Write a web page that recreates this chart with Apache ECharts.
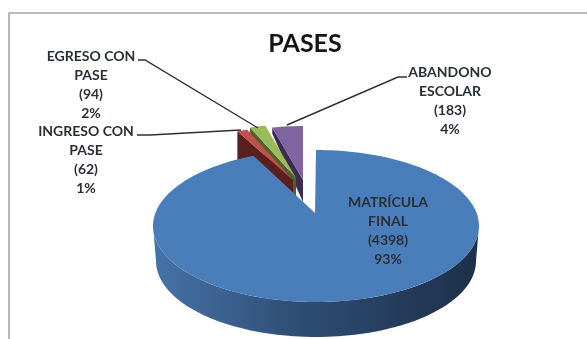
<!DOCTYPE html>
<html>
<head>
<meta charset="utf-8">
<style>html,body{margin:0;padding:0;background:#fff}#c{width:587px;height:339px}</style>
<script src="https://cdn.jsdelivr.net/npm/echarts@6/dist/echarts.min.js"></script>
</head>
<body>
<div id="c"></div>
<script>
var titleText = 'PASES';
var categories = ['MATRÍCULA\nFINAL', 'INGRESO CON\nPASE', 'EGRESO CON\nPASE', 'ABANDONO\nESCOLAR'];
var values = [4398, 62, 94, 183];
var colors = ['#4a7ebb', '#c0504d', '#9bbb59', '#8064a2'];
var wallColors = ['#2f4d74', '#5a201e', '#4d6128', '#3b2c54'];

var total = values.reduce(function (a, b) { return a + b; }, 0);
var RAD = Math.PI / 180;
function range(a, b) {
  var out = [], n = Math.max(2, Math.ceil(Math.abs(b - a) / 2));
  for (var i = 0; i <= n; i++) out.push(a + (b - a) * i / n);
  return out;
}
function startAngle(i) {
  var s = 0;
  for (var k = 0; k < i; k++) s += values[k];
  return s / total * 360;
}
// Foreshortening of the tilted plate
function warp(t) { return Math.atan2(0.86 * Math.sin(t * RAD), Math.cos(t * RAD)) / RAD; }

// Drawing layout of the 3D plate (main slice, then the three pulled-out slices)
var plate = { cx: 316, cy: 226, rx: 163, ry: 76, apexX: 315, apexY: 213,
              lowCy: 261, lowRx: 160, lowRy: 76 };
var pulled = { rx: 128, ry: 54 };
var apexes = [null, [293, 180, 20, 30], [296, 178, 20, 8], [303, 180, 22, 6]];
var labelPos = [[388, 231], [86, 159.5], [91, 84.5], [450, 100.5]];
var leaders = [null, [[137, 135], [150, 135], [241, 130]],
               [[138, 60], [145, 60], [258, 128]],
               [[407, 77], [398, 77], [287, 125]]];

function renderSlice(params, api) {
  var i = api.value(0), v = api.value(1);
  var a0 = startAngle(i), a1 = a0 + v / total * 360;
  var kids = [];
  var fontStyle = 'bold 14px Lato, "Open Sans", sans-serif';
  if (i === 0) {
    var wall = [];
    range(90, 270).forEach(function (t) {
      wall.push([plate.cx + plate.rx * Math.sin(t * RAD), plate.cy - plate.ry * Math.cos(t * RAD)]);
    });
    range(270, 90).forEach(function (t) {
      wall.push([plate.cx + plate.lowRx * Math.sin(t * RAD), plate.lowCy - plate.lowRy * Math.cos(t * RAD)]);
    });
    kids.push({ type: 'polygon', shape: { points: wall }, style: {
      fill: new echarts.graphic.LinearGradient(0, 0, 1, 0, [
        { offset: 0, color: '#4673a8' }, { offset: 0.45, color: '#2f4d74' }, { offset: 1, color: '#1c3048' }
      ]) } });
    var top = [[plate.apexX, plate.apexY]];
    range(a0, a1).forEach(function (t) {
      var w = warp(t);
      top.push([plate.cx + plate.rx * Math.sin(w * RAD), plate.cy - plate.ry * Math.cos(w * RAD)]);
    });
    kids.push({ type: 'polygon', shape: { points: top }, style: { fill: colors[i] } });
  } else {
    var ap = apexes[i];
    var tp = function (t) { return [ap[0] + pulled.rx * Math.sin(t * RAD), ap[1] - pulled.ry * Math.cos(t * RAD)]; };
    var outer = tp(a0);
    kids.push({ type: 'polygon', shape: { points: [
      outer, [ap[0], ap[1]], [ap[0], ap[1] + ap[2]], [outer[0], outer[1] + ap[3]]
    ] }, style: { fill: wallColors[i] } });
    var sl = [[ap[0], ap[1]]];
    range(a0, a1).forEach(function (t) { sl.push(tp(t)); });
    kids.push({ type: 'polygon', shape: { points: sl }, style: { fill: colors[i] } });
    kids.push({ type: 'polyline', shape: { points: leaders[i] },
      style: { fill: null, stroke: '#2f2f2f', lineWidth: 1.4 } });
  }
  kids.push({ type: 'text', z2: 10, style: {
    text: categories[i] + '\n(' + v + ')\n' + Math.round(v / total * 100) + '%',
    x: labelPos[i][0], y: labelPos[i][1], align: 'center', verticalAlign: 'middle',
    font: fontStyle, lineHeight: 19, fill: '#2a2f36'
  } });
  return { type: 'group', children: kids };
}

var order = [3, 2, 1, 0];
var chart = echarts.init(document.getElementById('c'), null, { renderer: 'canvas' });
chart.setOption({
  animation: false,
  backgroundColor: '#ffffff',
  title: { text: titleText, left: 300, top: 26, textAlign: 'center',
    textStyle: { fontFamily: 'Lato, "Open Sans", sans-serif', fontWeight: 'bold', fontSize: 25, color: '#151515' } },
  graphic: [{ type: 'rect', silent: true, z: -1,
    shape: { x: 9, y: 13, width: 700, height: 500 },
    style: { fill: 'none', stroke: '#a6a6a6', lineWidth: 1.6 } }],
  series: [{
    type: 'custom',
    coordinateSystem: 'none',
    renderItem: renderSlice,
    encode: { value: [1] },
    data: order.map(function (i) { return [i, values[i]]; })
  }]
});
</script>
</body>
</html>
